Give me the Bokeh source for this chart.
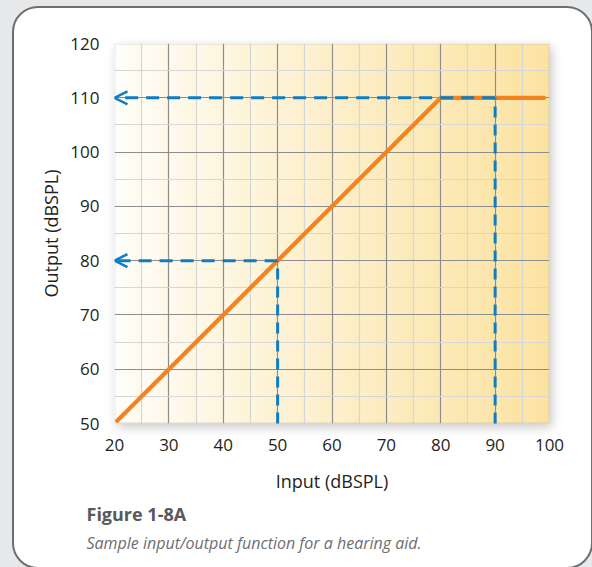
import numpy as np
from bokeh.plotting import figure
from bokeh.models import (Range1d, FixedTicker, BoxAnnotation, Arrow,
                          OpenHead, ColumnDataSource, Title)
from bokeh.embed import file_html
from bokeh.resources import INLINE

# ---- data ----
x_ticks = [20, 30, 40, 50, 60, 70, 80, 90, 100]
x_minor = [25, 35, 45, 55, 65, 75, 85, 95]
y_ticks = [50, 60, 70, 80, 90, 100, 110, 120]
y_minor = [55, 65, 75, 85, 95, 105, 115]

io_input = [20.5, 80, 99]
io_output = [50.5, 110, 110]

guide_input = [50, 90]
guide_output = [80, 110]

x_label = "Input (dBSPL)"
y_label = "Output (dBSPL)"
caption_title = "Figure 1-8A"
caption_text = "Sample input/output function for a hearing aid."

# ---- style ----
FONT = "Open Sans"
ORANGE = "#f5821f"
BLUE = "#0f7dc2"
GRAY_BG = "#e7e8e9"
W, H = 592, 567
FL, FR, FT, FB = 114, 549, 43, 423   # frame edges in canvas px

# page look: gray surroundings, white rounded card, soft shadow under the plot area
card_css = f"""
:host {{ background-color: {GRAY_BG}; isolation: isolate; overflow: hidden; }}
:host::before {{ content: ""; position: absolute; left: 11.5px; top: 5.5px;
  width: 581px; height: 563px; box-sizing: border-box;
  border: 2.5px solid #6d6e70; border-radius: 26px; background: #ffffff; z-index: -1; }}
:host::after {{ content: ""; position: absolute; left: {FL}px; top: {FT}px;
  width: {FR - FL}px; height: {FB - FT}px;
  box-shadow: 3px 4px 10px rgba(0, 0, 0, 0.22); z-index: -1; }}
"""

p = figure(width=W, height=H, x_range=Range1d(20, 100), y_range=Range1d(50, 120),
           output_backend="svg", toolbar_location=None,
           min_border_left=FL, min_border_right=W - FR,
           min_border_top=FT, min_border_bottom=H - FB,
           border_fill_color=None, background_fill_color=None,
           outline_line_color=None, stylesheets=[card_css])

# gradient background of the frame (white -> pale yellow, banded per column)
N = FR - FL
t = np.linspace(0, 1, N)
xs = 20 + 80 * t
s = ((xs - 20) % 5) / 5.0
v = np.clip(0.9 * t ** 0.9 + 0.1 * s, 0, 1)
white = np.array([255, 255, 253])
yellow = np.array([252, 226, 158])
rgb = (white[None, :] * (1 - v[:, None]) + yellow[None, :] * v[:, None]).astype(np.uint8)
img = np.empty((1, N), dtype=np.uint32)
view = img.view(dtype=np.uint8).reshape((1, N, 4))
view[0, :, 0:3] = rgb
view[0, :, 3] = 255
p.image_rgba(image=[img], x=20, y=50, dw=80, dh=70, level="underlay")

# axes
for ax in (p.xaxis[0], p.yaxis[0]):
    ax.axis_line_color = None
    ax.major_tick_line_color = None
    ax.minor_tick_line_color = None
    ax.major_label_text_font = FONT
    ax.major_label_text_font_size = "17px"
    ax.major_label_text_color = "#231f20"
    ax.axis_label_text_font = FONT
    ax.axis_label_text_font_size = "18px"
    ax.axis_label_text_font_style = "normal"
    ax.axis_label_text_color = "#231f20"

p.xaxis.ticker = FixedTicker(ticks=x_ticks, minor_ticks=x_minor)
p.yaxis.ticker = FixedTicker(ticks=y_ticks, minor_ticks=y_minor)
p.xaxis.axis_label = x_label
p.yaxis.axis_label = y_label
p.xaxis.major_label_standoff = 9
p.xaxis.axis_label_standoff = 15
p.yaxis.major_label_standoff = 9
p.yaxis.axis_label_standoff = 4

for g in (p.xgrid[0], p.ygrid[0]):
    g.grid_line_color = "#8d8d8d"
    g.grid_line_width = 1.2
    g.minor_grid_line_color = "#d6d6d6"
    g.minor_grid_line_width = 1.2
    g.level = "glyph"

# frame outline
p.add_layout(BoxAnnotation(left=20, right=100, bottom=50, top=120,
                           fill_color=None, line_color="#b9b9b9", line_width=2.5,
                           level="glyph"))

# input/output function
p.line(io_input, io_output, line_color=ORANGE, line_width=4.2,
       line_cap="round", line_join="round", level="annotation")

# guide lines (dashed, with arrows to the output axis)
gsrc = ColumnDataSource(dict(x=guide_input, y=guide_output,
                             x0=[20] * len(guide_input),
                             y0=[50] * len(guide_input)))
p.segment(x0="x", y0="y0", x1="x", y1="y", source=gsrc, line_color=BLUE,
          line_width=3, line_dash="11 7", level="annotation")
p.add_layout(Arrow(x_start="x", y_start="y", x_end="x0", y_end="y",
                   source=gsrc, line_color=BLUE, line_width=3, line_dash="13 8",
                   end=OpenHead(size=13, line_color=BLUE, line_width=2.5),
                   level="annotation"))

# caption (below the axis)
has_standoff = "standoff" in Title.properties()
kw1 = dict(standoff=8) if has_standoff else {}
kw2 = dict(standoff=0) if has_standoff else {}
p.add_layout(Title(text=caption_title, align="left", offset=-28, text_font=FONT,
                   text_font_size="18px", text_font_style="bold",
                   text_color="#58595b", **kw1), "below")
p.add_layout(Title(text=caption_text, align="left", offset=-28, text_font=FONT,
                   text_font_size="16px", text_font_style="italic",
                   text_color="#6d6e70", **kw2), "below")

open("out.html", "w").write(file_html(p, INLINE))
